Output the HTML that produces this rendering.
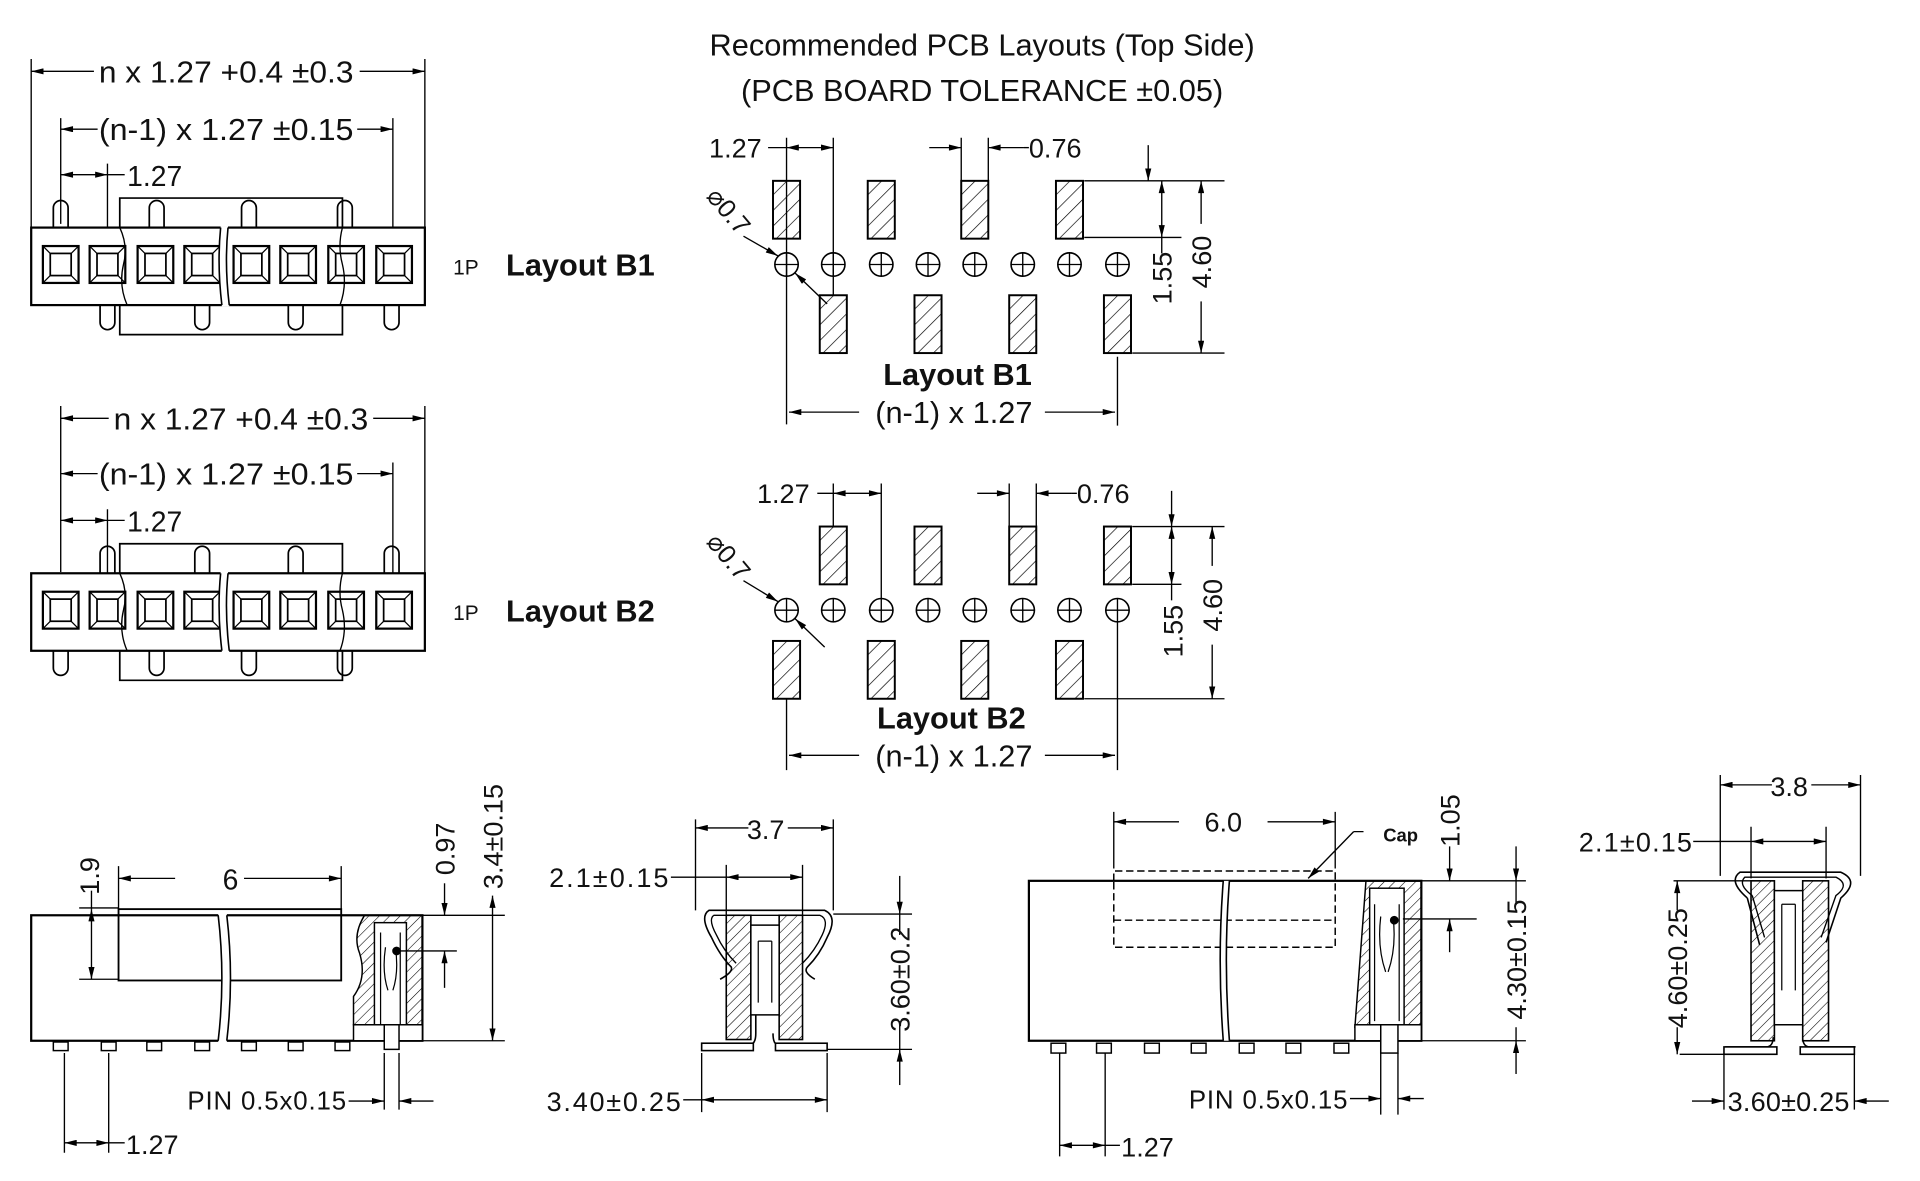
<!DOCTYPE html>
<html><head><meta charset="utf-8"><style>
html,body{margin:0;padding:0;background:#fff}
svg{display:block}
text{font-family:"Liberation Sans",sans-serif;fill:#111}
.n{font-family:"Liberation Sans Narrow","Liberation Sans",sans-serif}
</style></head><body>
<svg width="1920" height="1181" viewBox="0 0 1560 960" xmlns="http://www.w3.org/2000/svg">
<defs>
<marker id="a" viewBox="0 0 12 6" refX="12" refY="3" markerWidth="12" markerHeight="5" markerUnits="userSpaceOnUse" orient="auto-start-reverse"><path d="M0,0L12,3L0,6z" fill="#000"/></marker>
<pattern id="h" width="9" height="9" patternUnits="userSpaceOnUse" patternTransform="rotate(45)"><line x1="0" y1="0" x2="0" y2="9" stroke="#000" stroke-width="1.1"/></pattern>
<pattern id="hs" width="6" height="6" patternUnits="userSpaceOnUse" patternTransform="rotate(45)"><line x1="0" y1="0" x2="0" y2="6" stroke="#000" stroke-width="0.9"/></pattern>
<g id="sq"><rect x="-14.5" y="-15" width="29" height="30" fill="none" stroke="#000" stroke-width="1.8"/><rect x="-8.5" y="-9" width="17" height="18" fill="none" stroke="#000" stroke-width="1.4"/><path d="M-14.5,-15L-8.5,-9M14.5,-15L8.5,-9M-14.5,15L-8.5,9M14.5,15L8.5,9" stroke="#000" stroke-width="1"/></g>
<g id="body">
<rect x="25" y="185" width="320" height="63" fill="#fff" stroke="#000" stroke-width="1.8"/>
<use href="#sq" x="49" y="215"/><use href="#sq" x="87" y="215"/><use href="#sq" x="126" y="215"/><use href="#sq" x="164" y="215"/>
<use href="#sq" x="204" y="215"/><use href="#sq" x="242" y="215"/><use href="#sq" x="281" y="215"/><use href="#sq" x="320" y="215"/>
<path d="M179,184 Q176,215 180,249 L186,249 Q182,215 185,184 Z" fill="#fff" stroke="none"/>
<path d="M179,185 Q176,215 180,248 M185,185 Q182,215 186,248" fill="none" stroke="#000" stroke-width="1.3"/>
<path d="M97,185 Q104,200 100,215 Q96,232 103,248" fill="none" stroke="#000" stroke-width="1.1"/>
<path d="M278,185 Q274,200 278,215 Q282,232 276,248" fill="none" stroke="#000" stroke-width="1.1"/>
</g>
<g id="hole"><circle r="9.5" fill="none" stroke="#000" stroke-width="1.3"/><path d="M-9.5,0H9.5M0,-9.5V9.5" stroke="#000" stroke-width="1.1"/></g>
<g id="pad"><rect x="-11" y="0" width="22" height="47" fill="url(#h)" stroke="#000" stroke-width="1.6"/></g>
</defs>

<g fill="none" stroke="#000" stroke-width="1.1">
<path d="M25,48V185M345,48V185M49,96V182M319,96V215M87,133V225"/>
<line x1="76" y1="58" x2="25" y2="58" marker-end="url(#a)"/><line x1="292" y1="58" x2="345" y2="58" marker-end="url(#a)"/>
<line x1="79" y1="105" x2="49" y2="105" marker-end="url(#a)"/><line x1="290" y1="105" x2="319" y2="105" marker-end="url(#a)"/>
<line x1="49" y1="142" x2="87" y2="142" marker-start="url(#a)" marker-end="url(#a)"/><line x1="87" y1="142" x2="101" y2="142"/>
<path d="M97,185V161H278V185M97,248V272H278V248" stroke-width="1.4"/>
<path d="M43,185V169A6,6 0 0 1 55,169V185M121,185V169A6,6 0 0 1 133,169V185M196,185V169A6,6 0 0 1 208,169V185M274,185V169A6,6 0 0 1 286,169V185" stroke-width="1.4"/>
<path d="M81,248V262A6,6 0 0 0 93,262V248M158,248V262A6,6 0 0 0 170,262V248M234,248V262A6,6 0 0 0 246,262V248M312,248V262A6,6 0 0 0 324,262V248" stroke-width="1.4"/>
</g>
<use href="#body"/>

<g fill="none" stroke="#000" stroke-width="1.1">
<path d="M49,330V465M345,330V466M49,376V463M319,376V496M87,414V506"/>
<line x1="88" y1="340" x2="49" y2="340" marker-end="url(#a)"/><line x1="303" y1="340" x2="345" y2="340" marker-end="url(#a)"/>
<line x1="79" y1="385" x2="49" y2="385" marker-end="url(#a)"/><line x1="290" y1="385" x2="319" y2="385" marker-end="url(#a)"/>
<line x1="49" y1="423" x2="87" y2="423" marker-start="url(#a)" marker-end="url(#a)"/><line x1="87" y1="423" x2="101" y2="423"/>
<path d="M97,466V442H278V466M97,529V553H278V529" stroke-width="1.4"/>
<path d="M81,466V450A6,6 0 0 1 93,450V466M158,466V450A6,6 0 0 1 170,450V466M234,466V450A6,6 0 0 1 246,450V466M312,466V450A6,6 0 0 1 324,450V466" stroke-width="1.4"/>
<path d="M43,529V543A6,6 0 0 0 55,543V529M121,529V543A6,6 0 0 0 133,543V529M196,529V543A6,6 0 0 0 208,543V529M274,529V543A6,6 0 0 0 286,543V529" stroke-width="1.4"/>
</g>
<use href="#body" y="281"/>

<text x="80" y="67" font-size="25" textLength="207" lengthAdjust="spacingAndGlyphs">n x 1.27 +0.4 ±0.3</text>
<text x="80" y="114" font-size="25" textLength="207" lengthAdjust="spacingAndGlyphs">(n-1) x 1.27 ±0.15</text>
<text x="103" y="151" font-size="23" class="n">1.27</text>
<text x="368" y="223" font-size="17">1P</text>
<text x="411" y="224" font-size="25" font-weight="bold">Layout B1</text>
<text x="92" y="349" font-size="25" textLength="207" lengthAdjust="spacingAndGlyphs">n x 1.27 +0.4 ±0.3</text>
<text x="80" y="394" font-size="25" textLength="207" lengthAdjust="spacingAndGlyphs">(n-1) x 1.27 ±0.15</text>
<text x="103" y="432" font-size="23" class="n">1.27</text>
<text x="368" y="504" font-size="17">1P</text>
<text x="411" y="505" font-size="25" font-weight="bold">Layout B2</text>

<text x="798" y="45" font-size="25" text-anchor="middle">Recommended PCB Layouts (Top Side)</text>
<text x="798" y="82" font-size="25" text-anchor="middle">(PCB BOARD TOLERANCE ±0.05)</text>

<use href="#pad" x="639" y="147"/><use href="#pad" x="716" y="147"/><use href="#pad" x="792" y="147"/><use href="#pad" x="869" y="147"/>
<use href="#pad" x="677" y="240"/><use href="#pad" x="754" y="240"/><use href="#pad" x="831" y="240"/><use href="#pad" x="908" y="240"/>
<use href="#hole" x="639" y="215"/><use href="#hole" x="677" y="215"/><use href="#hole" x="716" y="215"/><use href="#hole" x="754" y="215"/>
<use href="#hole" x="792" y="215"/><use href="#hole" x="831" y="215"/><use href="#hole" x="869" y="215"/><use href="#hole" x="908" y="215"/>
<g fill="none" stroke="#000" stroke-width="1.1">
<path d="M639,112V345M677,112V240M781,112V147M803,112V147M908,290V346"/>
<path d="M881,147H995M881,193H960M920,287H995"/>
<line x1="624" y1="120" x2="639" y2="120"/><line x1="639" y1="120" x2="677" y2="120" marker-start="url(#a)" marker-end="url(#a)"/>
<line x1="755" y1="120" x2="781" y2="120" marker-end="url(#a)"/><line x1="832" y1="120" x2="803" y2="120" marker-end="url(#a)"/><line x1="832" y1="120" x2="836" y2="120"/>
<line x1="933" y1="118" x2="933" y2="147" marker-end="url(#a)"/>
<line x1="944" y1="147" x2="944" y2="193" marker-start="url(#a)" marker-end="url(#a)"/><line x1="944" y1="193" x2="944" y2="206"/>
<line x1="976" y1="147" x2="976" y2="182" marker-start="url(#a)"/><line x1="976" y1="245" x2="976" y2="287" marker-end="url(#a)"/>
<line x1="604" y1="192" x2="632" y2="208" marker-end="url(#a)"/><line x1="672" y1="247" x2="646" y2="222" marker-end="url(#a)"/>
<line x1="641" y1="335" x2="698" y2="335" marker-start="url(#a)"/><line x1="849" y1="335" x2="906" y2="335" marker-end="url(#a)"/>
</g>
<text x="576" y="128" font-size="22">1.27</text>
<text x="836" y="128" font-size="22">0.76</text>
<text transform="translate(952,226) rotate(-90)" font-size="22" text-anchor="middle">1.55</text>
<text transform="translate(984,213) rotate(-90)" font-size="22" text-anchor="middle">4.60</text>
<text transform="translate(573,160) rotate(50)" font-size="21">⌀0.7</text>
<text x="778" y="313" font-size="25" font-weight="bold" text-anchor="middle">Layout B1</text>
<text x="775" y="344" font-size="25" text-anchor="middle">(n-1) x 1.27</text>

<use href="#pad" x="677" y="428"/><use href="#pad" x="754" y="428"/><use href="#pad" x="831" y="428"/><use href="#pad" x="908" y="428"/>
<use href="#pad" x="639" y="521"/><use href="#pad" x="716" y="521"/><use href="#pad" x="792" y="521"/><use href="#pad" x="869" y="521"/>
<use href="#hole" x="639" y="496"/><use href="#hole" x="677" y="496"/><use href="#hole" x="716" y="496"/><use href="#hole" x="754" y="496"/>
<use href="#hole" x="792" y="496"/><use href="#hole" x="831" y="496"/><use href="#hole" x="869" y="496"/><use href="#hole" x="908" y="496"/>
<g fill="none" stroke="#000" stroke-width="1.1">
<path d="M639,568V626M677,393V428M716,393V487M820,393V428M842,393V428M908,505V626"/>
<path d="M920,428H995M920,475H960M881,568H995"/>
<line x1="664" y1="401" x2="677" y2="401"/><line x1="677" y1="401" x2="716" y2="401" marker-start="url(#a)" marker-end="url(#a)"/>
<line x1="794" y1="401" x2="820" y2="401" marker-end="url(#a)"/><line x1="871" y1="401" x2="842" y2="401" marker-end="url(#a)"/><line x1="871" y1="401" x2="875" y2="401"/>
<line x1="952" y1="399" x2="952" y2="428" marker-end="url(#a)"/>
<line x1="952" y1="428" x2="952" y2="475" marker-start="url(#a)" marker-end="url(#a)"/><line x1="952" y1="475" x2="952" y2="488"/>
<line x1="985" y1="428" x2="985" y2="460" marker-start="url(#a)"/><line x1="985" y1="524" x2="985" y2="568" marker-end="url(#a)"/>
<line x1="604" y1="472" x2="632" y2="489" marker-end="url(#a)"/><line x1="670" y1="526" x2="646" y2="503" marker-end="url(#a)"/>
<line x1="641" y1="614" x2="698" y2="614" marker-start="url(#a)"/><line x1="849" y1="614" x2="906" y2="614" marker-end="url(#a)"/>
</g>
<text x="615" y="409" font-size="22">1.27</text>
<text x="875" y="409" font-size="22">0.76</text>
<text transform="translate(961,513) rotate(-90)" font-size="22" text-anchor="middle">1.55</text>
<text transform="translate(993,492) rotate(-90)" font-size="22" text-anchor="middle">4.60</text>
<text transform="translate(573,441) rotate(50)" font-size="21">⌀0.7</text>
<text x="773" y="592" font-size="25" font-weight="bold" text-anchor="middle">Layout B2</text>
<text x="775" y="623" font-size="25" text-anchor="middle">(n-1) x 1.27</text>

<g fill="none" stroke="#000" stroke-width="1.1">
<rect x="25" y="744" width="318" height="102" fill="#fff" stroke-width="1.8"/>
<rect x="96" y="739" width="181" height="58" stroke-width="1.5"/>
<path d="M177,743 Q183,795 177,847 L184,847 Q190,795 184,743Z" fill="#fff" stroke="none"/>
<path d="M177,744 Q183,795 177,846 M184,744 Q190,795 184,846" stroke-width="1.3"/>
<path d="M296,744 Q286,760 292,775 Q298,795 287,810 L287,833 H343 V744Z" fill="url(#hs)" stroke-width="1.2"/>
<rect x="304" y="750" width="26" height="90" fill="#fff" stroke-width="1.2"/>
<path d="M309,758V835M325,758V835M313,770Q310,790 315,805M321,770Q324,790 319,805" stroke-width="1"/>
<rect x="287" y="833" width="56" height="13" fill="#fff" stroke-width="1.2"/>
<rect x="312" y="833" width="12" height="20" fill="#fff" stroke-width="1.2"/>
<circle cx="322" cy="773" r="3" fill="#000"/>
<g fill="#fff" stroke-width="1.2"><rect x="43" y="847" width="12" height="7"/><rect x="82" y="847" width="12" height="7"/><rect x="119" y="847" width="12" height="7"/><rect x="158" y="847" width="12" height="7"/><rect x="196" y="847" width="12" height="7"/><rect x="234" y="847" width="12" height="7"/><rect x="272" y="847" width="12" height="7"/></g>
<path d="M96,704V739M277,704V739M64,738H96M64,796H96M343,744H410M343,846H410M325,773H371M52,856V937M88,856V937M312,856V902M324,856V902"/>
<line x1="142" y1="714" x2="96" y2="714" marker-end="url(#a)"/><line x1="198" y1="714" x2="277" y2="714" marker-end="url(#a)"/>
<line x1="74" y1="739" x2="74" y2="796" marker-start="url(#a)" marker-end="url(#a)"/><line x1="74" y1="724" x2="74" y2="739"/>
<line x1="361" y1="718" x2="361" y2="744" marker-end="url(#a)"/><line x1="361" y1="803" x2="361" y2="773" marker-end="url(#a)"/>
<line x1="400" y1="728" x2="400" y2="846" marker-start="url(#a)" marker-end="url(#a)"/>
<line x1="52" y1="929" x2="88" y2="929" marker-start="url(#a)" marker-end="url(#a)"/><line x1="88" y1="929" x2="101" y2="929"/>
<line x1="283" y1="895" x2="312" y2="895" marker-end="url(#a)"/><line x1="352" y1="895" x2="324" y2="895" marker-end="url(#a)"/>
</g>
<text x="187" y="723" font-size="23" class="n" text-anchor="middle">6</text>
<text transform="translate(80,712) rotate(-90)" font-size="22" class="n" text-anchor="middle">1.9</text>
<text transform="translate(369,690) rotate(-90)" font-size="22" class="n" text-anchor="middle">0.97</text>
<text transform="translate(408,680) rotate(-90)" font-size="22" class="n" text-anchor="middle">3.4±0.15</text>
<text x="152" y="902" font-size="21" class="n" textLength="129">PIN  0.5x0.15</text>
<text x="102" y="938" font-size="22" class="n">1.27</text>

<g fill="none" stroke="#000" stroke-width="1.1">
<path d="M570,849 H609 Q614,849 614,840 V760 M672,849 H632 Q628,849 628,840" stroke-width="1.3"/>
<path d="M578,762 Q568,745 576,740 H670 Q681,745 672,762 Q666,776 656,786 Q652,790 662,796 M578,762 Q585,777 594,786 Q596,790 585,796" stroke-width="1.3"/>
<path d="M582,760 Q575,747 580,744 H666 Q674,747 668,760 Q662,773 652,783 M582,760 Q588,773 598,783" stroke-width="1.1"/>
<rect x="570" y="848" width="42" height="6" fill="#fff" stroke-width="1.3"/><rect x="630" y="848" width="42" height="6" fill="#fff" stroke-width="1.3"/>
<rect x="590" y="744" width="20" height="101" fill="url(#hs)" stroke-width="1.3"/>
<rect x="633" y="744" width="19" height="101" fill="url(#hs)" stroke-width="1.3"/>
<path d="M610,752V825H633V752Z" fill="#fff" stroke-width="1.2"/>
<path d="M616,765V815M627,765V815M616,765H627" stroke-width="1"/>
<path d="M565,666V740M677,666V740M590,703V744M652,703V744M677,743H741M672,853H741M570,856V904M672,856V904"/>
<line x1="608" y1="673" x2="565" y2="673" marker-end="url(#a)"/><line x1="640" y1="673" x2="677" y2="673" marker-end="url(#a)"/>
<line x1="545" y1="713" x2="590" y2="713"/><line x1="590" y1="713" x2="652" y2="713" marker-start="url(#a)" marker-end="url(#a)"/>
<line x1="731" y1="712" x2="731" y2="743" marker-end="url(#a)"/><line x1="731" y1="743" x2="731" y2="760"/><line x1="731" y1="830" x2="731" y2="853"/><line x1="731" y1="882" x2="731" y2="853" marker-end="url(#a)"/>
<line x1="555" y1="894" x2="570" y2="894"/><line x1="570" y1="894" x2="672" y2="894" marker-start="url(#a)" marker-end="url(#a)"/>
</g>
<text x="622" y="682" font-size="22" class="n" text-anchor="middle">3.7</text>
<text x="446" y="721" font-size="22" class="n" textLength="97">2.1±0.15</text>
<text transform="translate(739,796) rotate(-90)" font-size="22" class="n" text-anchor="middle">3.60±0.2</text>
<text x="444" y="903" font-size="22" class="n" textLength="109">3.40±0.25</text>

<g fill="none" stroke="#000" stroke-width="1.1">
<rect x="836" y="716" width="319" height="130" fill="#fff" stroke-width="1.8"/>
<path d="M905,716V708H1085V770H905V716M905,748H1085" stroke-dasharray="6,3" stroke-width="1.2"/>
<path d="M994,716 Q989,780 994,846 L999,846 Q994,780 999,716Z" fill="#fff" stroke="none"/>
<path d="M994,716 Q989,780 994,846 M999,716 Q994,780 999,846" stroke-width="1.3"/>
<path d="M1110,716 L1101,835 H1155 V716Z" fill="url(#hs)" stroke-width="1.2"/>
<rect x="1113" y="722" width="28" height="113" fill="#fff" stroke-width="1.2"/>
<path d="M1117,735V830M1137,735V830M1122,745Q1119,770 1126,790M1132,745Q1135,770 1128,790" stroke-width="1"/>
<rect x="1101" y="833" width="54" height="13" fill="#fff" stroke-width="1.2"/>
<rect x="1122" y="833" width="14" height="23" fill="#fff" stroke-width="1.2"/>
<circle cx="1133" cy="748" r="3" fill="#000"/>
<g fill="#fff" stroke-width="1.2"><rect x="854" y="848" width="12" height="8"/><rect x="891" y="848" width="12" height="8"/><rect x="930" y="848" width="12" height="8"/><rect x="968" y="848" width="12" height="8"/><rect x="1007" y="848" width="12" height="8"/><rect x="1045" y="848" width="12" height="8"/><rect x="1084" y="848" width="12" height="8"/></g>
<path d="M905,660V706M1085,660V706M1155,716H1240M1140,747H1200M1155,846H1240M861,856V940M898,856V940M1122,856V906M1136,856V906M1100,676H1108"/>
<line x1="958" y1="668" x2="905" y2="668" marker-end="url(#a)"/><line x1="1030" y1="668" x2="1085" y2="668" marker-end="url(#a)"/>
<line x1="1100" y1="676" x2="1063" y2="714" marker-end="url(#a)"/>
<line x1="1178" y1="688" x2="1178" y2="716" marker-end="url(#a)"/><line x1="1178" y1="774" x2="1178" y2="747" marker-end="url(#a)"/>
<line x1="1232" y1="688" x2="1232" y2="716" marker-end="url(#a)"/><line x1="1232" y1="716" x2="1232" y2="735"/><line x1="1232" y1="835" x2="1232" y2="846"/><line x1="1232" y1="873" x2="1232" y2="846" marker-end="url(#a)"/>
<line x1="1097" y1="893" x2="1122" y2="893" marker-end="url(#a)"/><line x1="1157" y1="893" x2="1136" y2="893" marker-end="url(#a)"/>
<line x1="861" y1="931" x2="898" y2="931" marker-start="url(#a)" marker-end="url(#a)"/><line x1="898" y1="931" x2="910" y2="931"/>
</g>
<text x="994" y="676" font-size="22" class="n" text-anchor="middle">6.0</text>
<text x="1124" y="684" font-size="15" class="n" font-weight="bold">Cap</text>
<text transform="translate(1186,667) rotate(-90)" font-size="22" class="n" text-anchor="middle">1.05</text>
<text transform="translate(1240,780) rotate(-90)" font-size="22" class="n" text-anchor="middle">4.30±0.15</text>
<text x="966" y="901" font-size="21" class="n" textLength="129">PIN  0.5x0.15</text>
<text x="911" y="940" font-size="22" class="n">1.27</text>

<g fill="none" stroke="#000" stroke-width="1.1">
<path d="M1402,851 H1435 Q1441,851 1441,843 M1508,851 H1471 Q1465,851 1465,843" stroke-width="1.2"/>
<path d="M1420,730 Q1404,716 1414,709 H1496 Q1512,716 1496,730 L1484,766 M1420,730 L1430,768" stroke-width="1.3"/>
<path d="M1424,728 Q1412,719 1418,713 H1492 Q1504,719 1492,728 L1480,762 M1424,728 L1434,762" stroke-width="1.1"/>
<rect x="1401" y="851" width="43" height="6" fill="#fff" stroke-width="1.3"/><rect x="1463" y="851" width="44" height="6" fill="#fff" stroke-width="1.3"/>
<rect x="1423" y="716" width="19" height="130" fill="url(#hs)" stroke-width="1.3"/>
<rect x="1465" y="716" width="21" height="130" fill="url(#hs)" stroke-width="1.3"/>
<path d="M1442,724V833H1465V724Z" fill="#fff" stroke-width="1.2"/>
<path d="M1448,735V805M1459,735V805M1448,735H1459" stroke-width="1"/>
<path d="M1398,630V712M1512,630V712M1423,672V714M1484,672V714M1360,716H1425M1365,857H1402M1401,857V902M1507,857V902"/>
<line x1="1440" y1="638" x2="1398" y2="638" marker-end="url(#a)"/><line x1="1472" y1="638" x2="1512" y2="638" marker-end="url(#a)"/>
<line x1="1376" y1="684" x2="1423" y2="684"/><line x1="1423" y1="684" x2="1484" y2="684" marker-start="url(#a)" marker-end="url(#a)"/>
<line x1="1363" y1="716" x2="1363" y2="740" marker-start="url(#a)"/><line x1="1363" y1="835" x2="1363" y2="857" marker-end="url(#a)"/>
<line x1="1375" y1="895" x2="1401" y2="895" marker-end="url(#a)"/><line x1="1535" y1="895" x2="1507" y2="895" marker-end="url(#a)"/>
</g>
<text x="1454" y="647" font-size="22" class="n" text-anchor="middle">3.8</text>
<text x="1283" y="692" font-size="22" class="n" textLength="92">2.1±0.15</text>
<text transform="translate(1371,787) rotate(-90)" font-size="22" class="n" text-anchor="middle">4.60±0.25</text>
<text x="1404" y="903" font-size="22" class="n" textLength="99">3.60±0.25</text>
</svg>
</body></html>
